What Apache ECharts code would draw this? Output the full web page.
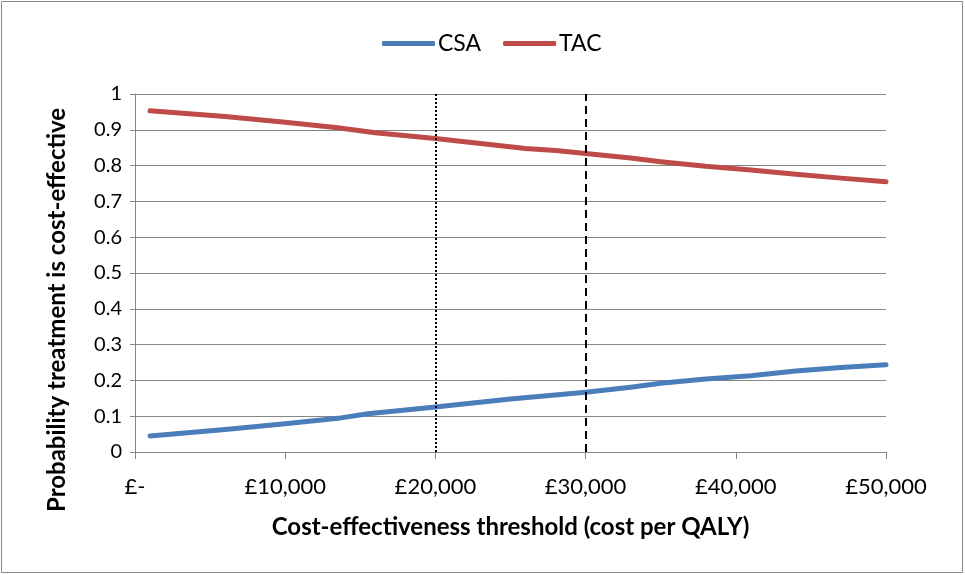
<!DOCTYPE html>
<html>
<head>
<meta charset="utf-8">
<style>
  html, body { margin: 0; padding: 0; background: #fff; }
  #chart { width: 965px; height: 575px; }
</style>
<script src="https://cdn.jsdelivr.net/npm/echarts@6/dist/echarts.min.js"></script>
</head>
<body>
<div id="chart"></div>
<script>
// Willingness-to-pay thresholds (£ per QALY) and probability each option is cost-effective
const csaThresholds = [1000, 6000, 10000, 13500, 15500, 20000, 25000, 30000, 33000, 35000, 38000, 41000, 44000, 47000, 50000];
const csaProb       = [0.045, 0.063, 0.079, 0.094, 0.107, 0.126, 0.148, 0.167, 0.181, 0.192, 0.204, 0.213, 0.226, 0.236, 0.244];

const tacThresholds = [1000, 6000, 10000, 13500, 16000, 20000, 23000, 26000, 28000, 30000, 33000, 35000, 38000, 41000, 44000, 47000, 50000];
const tacProb       = [0.953, 0.937, 0.921, 0.906, 0.892, 0.876, 0.862, 0.848, 0.842, 0.834, 0.821, 0.811, 0.798, 0.788, 0.776, 0.765, 0.755];

// Reference thresholds marked on the chart
const thresholdLow  = 20000;
const thresholdHigh = 30000;

const seriesNames = ['CSA', 'TAC'];
const xTitle = 'Cost-effectiveness threshold (cost per QALY)';
const yTitle = 'Probability treatment is cost-effective';

const FONT = 'Lato, "Liberation Sans", sans-serif';
const GRID_GREY = '#868686';

const pair = (xs, ys) => xs.map((x, i) => [x, ys[i]]);

const chart = echarts.init(document.getElementById('chart'), null, { renderer: 'canvas' });

chart.setOption({
  animation: false,
  backgroundColor: '#ffffff',
  textStyle: { fontFamily: FONT },
  graphic: [{
    type: 'rect',
    shape: { x: 1.5, y: 1.5, width: 961, height: 571 },
    style: { fill: 'none', stroke: '#898989', lineWidth: 1 },
    silent: true
  }],
  legend: {
    data: seriesNames,
    top: 27,
    left: 377,
    icon: 'roundRect',
    itemWidth: 53,
    itemHeight: 5,
    itemGap: 22,
    textStyle: { fontFamily: FONT, fontSize: 23, color: '#000', padding: [0, 0, 0, -2] }
  },
  grid: { left: 135, right: 79, top: 94, bottom: 123, containLabel: false },
  xAxis: {
    type: 'value',
    min: 0,
    max: 50000,
    interval: 10000,
    name: xTitle,
    nameLocation: 'middle',
    nameGap: 63,
    nameTextStyle: { fontFamily: FONT, fontSize: 24, fontWeight: 'bold', color: '#000' },
    axisLine: { show: true, lineStyle: { color: GRID_GREY, width: 1 } },
    axisTick: { show: true, inside: false, length: 7, lineStyle: { color: GRID_GREY } },
    axisLabel: {
      margin: 24,
      fontFamily: FONT,
      fontSize: 22,
      color: '#000',
      formatter: v => v === 0 ? '£-' : '£' + v.toLocaleString('en-GB')
    },
    splitLine: { show: false }
  },
  yAxis: {
    type: 'value',
    min: 0,
    max: 1,
    interval: 0.1,
    name: yTitle,
    nameLocation: 'middle',
    nameGap: 66,
    nameTextStyle: {
      fontFamily: FONT, fontSize: 24, fontWeight: 'bold', color: '#000',
      padding: [0, 74, 0, 0]
    },
    axisLine: { show: true, lineStyle: { color: GRID_GREY, width: 1 } },
    axisTick: { show: true, inside: false, length: 5, lineStyle: { color: GRID_GREY } },
    axisLabel: {
      margin: 13,
      fontFamily: FONT,
      fontSize: 20,
      color: '#000',
      formatter: v => (v === 0 || v === 1) ? String(v) : v.toFixed(1)
    },
    splitLine: { show: true, lineStyle: { color: GRID_GREY, width: 1 } }
  },
  series: [
    {
      name: 'CSA',
      type: 'line',
      data: pair(csaThresholds, csaProb),
      symbol: 'none',
      color: '#4a7ebb',
      lineStyle: { width: 5, cap: 'round', join: 'round' },
      markLine: {
        silent: true,
        symbol: ['none', 'none'],
        label: { show: false },
        data: [
          { xAxis: thresholdLow,  lineStyle: { color: '#000', width: 2, type: [2, 2] } },
          { xAxis: thresholdHigh, lineStyle: { color: '#000', width: 2, type: [8, 5] } }
        ]
      },
      z: 3
    },
    {
      name: 'TAC',
      type: 'line',
      data: pair(tacThresholds, tacProb),
      symbol: 'none',
      color: '#be4b48',
      lineStyle: { width: 5, cap: 'round', join: 'round' },
      z: 3
    }
  ]
});
</script>
</body>
</html>
